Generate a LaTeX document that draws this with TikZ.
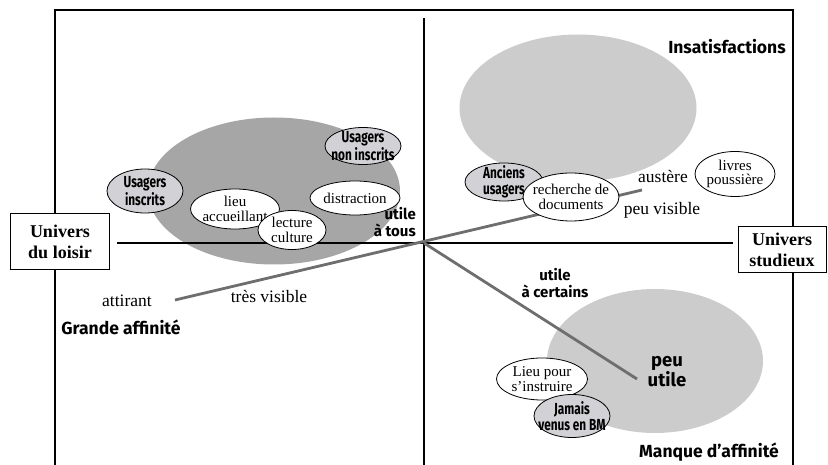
\documentclass[tikz,border=0pt]{standalone}
\usepackage{fontspec}
\setmainfont{Liberation Serif}
\newfontfamily\sansb{Fira Sans}
\newfontfamily\condb{Fira Sans}[FakeStretch=0.74]
\usetikzlibrary{shapes.geometric}
\definecolor{blobdark}{RGB}{166,166,166}
\definecolor{bloblight}{RGB}{204,204,204}
\definecolor{ovalgrey}{RGB}{210,210,214}
\definecolor{trendgrey}{RGB}{110,110,110}
\newcommand\ovalnode[7]{%
  \node[#5, minimum width=#3pt, minimum height=#4pt] (#1) at #2 {};
  \node[#6] (#1t) at (#1.center) {#7};}
\begin{document}
\begin{tikzpicture}[x=1pt,y=-1pt,
  blobdarkst/.style={ellipse, fill=blobdark, inner sep=0pt},
  bloblightst/.style={ellipse, fill=bloblight, inner sep=0pt},
  woval/.style={ellipse, draw, line width=0.8pt, fill=white, inner sep=0pt},
  goval/.style={ellipse, draw, line width=0.8pt, fill=ovalgrey, inner sep=0pt},
  wtext/.style={align=center, inner sep=0pt, font=\fontsize{15}{14.5}\selectfont},
  gtext/.style={align=center, inner sep=0pt, font=\condb\bfseries\fontsize{16}{16}\selectfont},
  serlbl/.style={inner sep=0pt, font=\fontsize{17.5}{18}\selectfont},
  hdr/.style={inner sep=0pt, font=\sansb\bfseries\fontsize{17.5}{18}\selectfont},
  sublbl/.style={inner sep=0pt, align=center, font=\sansb\bfseries\fontsize{15}{17}\selectfont},
  unibox/.style={draw, line width=1pt, fill=white, align=center, inner sep=0pt, font=\bfseries\fontsize{18}{21}\selectfont},
  axisline/.style={line width=1.1pt},
  trend/.style={line width=2.8pt, draw=trendgrey}
]
\useasboundingbox (0,0) rectangle (828,465);
% big zones
\node[blobdarkst, minimum width=252pt, minimum height=147pt] (loisirblob) at (274,191) {};
\node[bloblightst, minimum width=237pt, minimum height=147pt] (insatblob) at (578,108) {};
\node[bloblightst, minimum width=216pt, minimum height=144pt] (peublob) at (655,361) {};
% frame and axes
\coordinate (O) at (424,243);
\coordinate (ftl) at (55,10); \coordinate (ftr) at (793,10);
\coordinate (fbl) at (55,465); \coordinate (fbr) at (793,465);
\draw[axisline] (fbl) -- (ftl) -- (ftr) -- (fbr);
\coordinate (vt) at (424,18); \coordinate (vb) at (424,465);
\draw[axisline] (vt) -- (vb);
\coordinate (hl) at (117,243); \coordinate (hr) at (733,243);
\draw[axisline] (hl) -- (hr);
\node[unibox, minimum width=99pt, minimum height=56pt] (loisir) at (60,242) {Univers\\du loisir};
\node[unibox, minimum width=88pt, minimum height=46pt] (studieux) at (782,250) {Univers\\studieux};
% trend lines
\coordinate (attr) at (175,300); \coordinate (vis) at (642,190); \coordinate (pu) at (637,379);
\draw[trend] (attr) -- (vis);
\draw[trend] (O) -- (pu);
% small ovals
\ovalnode{ui}{(145,191)}{76}{44}{goval}{gtext}{Usagers\\inscrits}
\ovalnode{uni}{(363,146)}{76}{37}{goval}{gtext}{Usagers\\non inscrits}
\ovalnode{la}{(235,209)}{89}{40}{woval}{wtext}{lieu\\accueillant}
\ovalnode{lc}{(292,230)}{68}{39}{woval}{wtext}{lecture\\culture}
\ovalnode{dis}{(355,198)}{90}{34}{woval}{wtext}{distraction}
\ovalnode{au}{(504,182)}{78}{38}{goval}{gtext}{Anciens\\usagers}
\ovalnode{rd}{(571,197)}{96}{48}{woval}{wtext}{recherche de\\documents}
\ovalnode{lp}{(735,174)}{80}{45}{woval}{wtext}{livres\\poussière}
\ovalnode{ls}{(542,379)}{91}{42}{woval}{wtext}{Lieu pour\\s’instruire}
\ovalnode{jv}{(572,416)}{76}{43}{goval}{gtext}{Jamais\\venus en BM}
% labels
\node[serlbl] (attirant) at (127,301) {attirant};
\node[serlbl] (tresvis) at (269,297) {très visible};
\node[serlbl] (austere) at (663,177) {austère};
\node[serlbl] (peuvis) at (662,210) {peu visible};
\node[hdr] (grande) at (121,327) {Grande affinité};
\node[hdr] (insat) at (727,47) {Insatisfactions};
\node[hdr] (manque) at (709,452) {Manque d’affinité};
\node[sublbl, align=right, anchor=east] (atous) at (416,222) {utile\\à tous};
\node[sublbl] (acert) at (555,283) {utile\\à certains};
\node[sublbl, font=\sansb\bfseries\fontsize{18.5}{17}\selectfont] (peuutile) at (667,372) {peu\\utile};
\end{tikzpicture}
\end{document}
